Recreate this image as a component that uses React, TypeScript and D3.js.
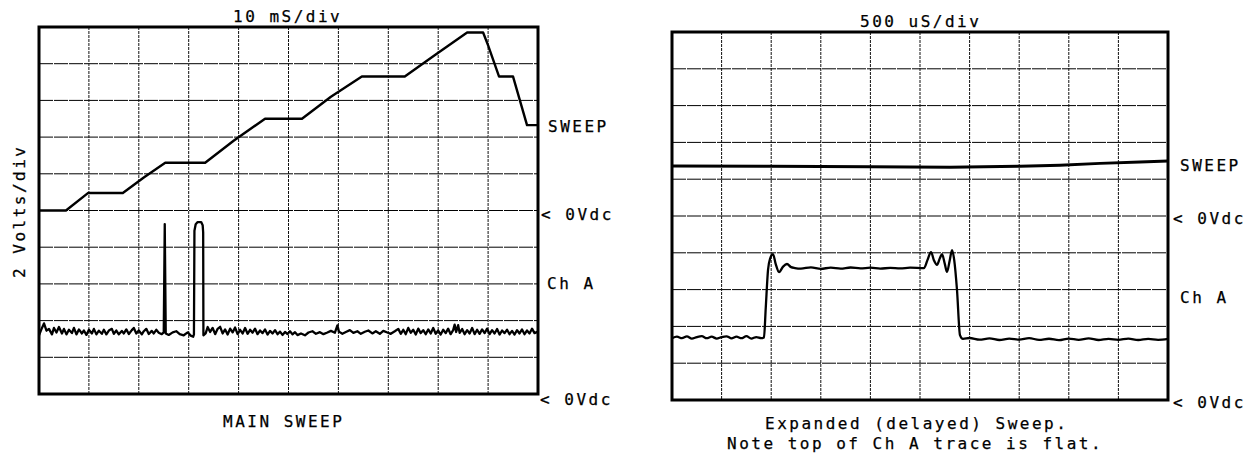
import React from "react";
import * as d3 from "d3";

// ---------- DATA ----------
// Main sweep: time in ms (10 mS/div), volts (2 V/div)
const mainTimeDomain: [number, number] = [0, 100];
// Delayed sweep: time in µs (500 uS/div)
const delayedTimeDomain: [number, number] = [0, 5000];
// Vertical: 10 divisions of 2 V; Ch A 0Vdc at bottom, SWEEP 0Vdc 5 divs up
const voltDomain: [number, number] = [0, 20];
const sweepOffsetVolts = 10;

const mainSweep: [number, number][] = [
  [0, 0.0], [5.4, 0.0], [9.8, 0.95], [16.8, 0.95], [21, 1.8], [25.3, 2.6],
  [33.3, 2.6], [39, 3.8], [45.3, 5.0], [52.7, 5.0], [58.5, 6.2], [64.7, 7.3],
  [73.3, 7.3], [79.5, 8.5], [85.8, 9.7], [89.0, 9.7], [90.0, 9.0], [92.2, 7.3],
  [95.0, 7.3], [97.8, 4.65], [100, 4.65],
];

const mainChA: [number, number][] = [
  [0, 3.2], [0.6, 3.6], [1.0, 3.85], [1.5, 3.45], [2, 3.55], [2.6, 3.25], [3, 3.6], [3.5, 3.35],
  [4, 3.65], [4.6, 3.3], [5, 3.55], [5.5, 3.25], [6, 3.5], [6.6, 3.32], [7, 3.6], [7.5, 3.25],
  [8, 3.52], [8.6, 3.3], [9, 3.46], [9.5, 3.22], [10, 3.5], [10.6, 3.3], [11, 3.55], [11.5, 3.25],
  [12, 3.45], [12.6, 3.28], [13, 3.5], [13.5, 3.25], [14, 3.46], [14.6, 3.55], [15, 3.28], [15.5, 3.46],
  [16, 3.25], [16.6, 3.44], [17, 3.3], [17.5, 3.52], [18, 3.27], [18.6, 3.48], [19, 3.6], [19.5, 3.3],
  [20, 3.46], [20.6, 3.25], [21, 3.42], [21.5, 3.55], [22, 3.27], [22.6, 3.44], [23, 3.3], [23.5, 3.5],
  [24, 3.34], [24.6, 3.26], [25.0, 3.36], [25.2, 9.26], [25.4, 3.3],
  [26, 3.22], [26.8, 3.36], [27.5, 3.42], [28.2, 3.26], [29, 3.2], [29.8, 3.36], [30.4, 3.18], [30.9, 3.12],
  [31.05, 3.25], [31.15, 8.9], [31.4, 9.25], [31.8, 9.37], [32.5, 9.37], [32.8, 9.2], [32.9, 8.8], [32.95, 3.2],
  [33.4, 3.3], [33.8, 3.65], [34.3, 3.38], [34.8, 3.6], [35.3, 3.26], [35.8, 3.55], [36.3, 3.66], [36.8, 3.3],
  [37.3, 3.52], [37.8, 3.24], [38.3, 3.56], [38.8, 3.36], [39.3, 3.62], [39.8, 3.26], [40.3, 3.5], [40.8, 3.3],
  [41.3, 3.6], [41.8, 3.28], [42.3, 3.5], [42.8, 3.34], [43.3, 3.56], [43.8, 3.26], [44.3, 3.46], [44.8, 3.32],
  [45.3, 3.52], [45.8, 3.24], [46.3, 3.44], [46.8, 3.3], [47.3, 3.48], [47.8, 3.26], [48.3, 3.4], [48.8, 3.22],
  [49.3, 3.38], [49.8, 3.27], [50.3, 3.42], [50.8, 3.25], [51.3, 3.37], [51.8, 3.21],
  [52.5, 3.3], [53.3, 3.2], [54, 3.35], [54.8, 3.42], [55.5, 3.28], [56.3, 3.37], [57, 3.26], [57.8, 3.35],
  [58.5, 3.44], [59.3, 3.34], [59.8, 3.74], [60.1, 3.4], [60.8, 3.28], [61.5, 3.38], [62.3, 3.48], [63, 3.33],
  [63.8, 3.42], [64.5, 3.28], [65.3, 3.39], [66, 3.46], [66.8, 3.3], [67.5, 3.42], [68.3, 3.28], [69, 3.44],
  [69.8, 3.35], [70.5, 3.28], [71.3, 3.42],
  [72, 3.55], [72.5, 3.28], [73, 3.5], [73.5, 3.26], [74, 3.6], [74.5, 3.34], [75, 3.5], [75.5, 3.24],
  [76, 3.56], [76.5, 3.32], [77, 3.48], [77.5, 3.26], [78, 3.52], [78.5, 3.3], [79, 3.6], [79.5, 3.28],
  [80, 3.46], [80.5, 3.24], [81, 3.5], [81.5, 3.32], [82, 3.56], [82.5, 3.26], [83, 3.48], [83.3, 3.78],
  [83.6, 3.38], [84.0, 3.75], [84.3, 3.33], [84.8, 3.54], [85.3, 3.26], [85.8, 3.48], [86.3, 3.3], [86.8, 3.6],
  [87.3, 3.26], [87.8, 3.5], [88.3, 3.28], [88.8, 3.52], [89.3, 3.32], [89.8, 3.56], [90.3, 3.26], [90.8, 3.48],
  [91.3, 3.3], [91.8, 3.54], [92.3, 3.24], [92.8, 3.46], [93.3, 3.32], [93.8, 3.5], [94.3, 3.26], [94.8, 3.44],
  [95.3, 3.24], [95.8, 3.48], [96.3, 3.3], [96.8, 3.52], [97.3, 3.26], [97.8, 3.46], [98.3, 3.3], [98.8, 3.56],
  [99.3, 3.32], [100, 3.4],
];

const delayedSweep: [number, number][] = [
  [0, 2.72], [988, 2.7], [1996, 2.68], [2802, 2.65], [3508, 2.7], [3911, 2.76],
  [4315, 2.86], [4718, 2.93], [5000, 2.99],
];

const delayedChA: [number, number][] = [
  [0, 3.36], [50, 3.44], [100, 3.36], [150, 3.46], [200, 3.34], [250, 3.42], [300, 3.47], [350, 3.36],
  [400, 3.44], [450, 3.34], [500, 3.42], [550, 3.46], [600, 3.35], [650, 3.44], [700, 3.36], [750, 3.47],
  [800, 3.34], [850, 3.42], [900, 3.36], [927, 3.4],
  [945, 5.0], [968, 7.07], [990, 7.7], [1018, 7.93], [1045, 7.4], [1079, 6.95], [1120, 7.25], [1159, 7.39],
  [1200, 7.22], [1240, 7.17],
  [1300, 7.14], [1400, 7.21], [1500, 7.13], [1600, 7.19], [1700, 7.14], [1800, 7.2], [1900, 7.15],
  [2000, 7.19], [2100, 7.14], [2200, 7.18], [2300, 7.15], [2400, 7.19], [2540, 7.17],
  [2575, 7.6], [2611, 8.04], [2640, 7.6], [2671, 7.34], [2700, 7.7], [2722, 7.93], [2750, 7.4],
  [2772, 6.96], [2800, 7.6], [2823, 8.15], [2845, 7.6], [2873, 5.98], [2903, 3.53], [2933, 3.32],
  [3000, 3.37], [3100, 3.28], [3200, 3.35], [3300, 3.26], [3400, 3.34], [3500, 3.28], [3600, 3.36],
  [3700, 3.27], [3800, 3.33], [3900, 3.25], [4000, 3.34], [4100, 3.27], [4200, 3.35], [4300, 3.26],
  [4400, 3.32], [4500, 3.27], [4600, 3.34], [4700, 3.26], [4800, 3.32], [4900, 3.27], [5000, 3.32],
];

const mainTitle = "10 mS/div";
const delayedTitle = "500 uS/div";
const yAxisLabel = "2 Volts/div";
const sweepLabel = "SWEEP";
const zeroLabel = "< 0Vdc";
const chALabel = "Ch A";
const mainCaption = ["MAIN SWEEP"];
const delayedCaption = ["Expanded (delayed) Sweep.", "Note top of Ch A trace is flat."];

// ---------- LAYOUT ----------
const W = 1258;
const H = 454;
const FONT = "'DejaVu Sans Mono', 'Liberation Mono', monospace";
const FS = 16;
const LS = 2.5;

type Box = { x0: number; x1: number; y0: number; y1: number };

const leftBox: Box = { x0: 39, x1: 538, y0: 27, y1: 394 };
const rightBox: Box = { x0: 672, x1: 1168, y0: 32, y1: 400 };

function Txt(props: { x: number; y: number; children: string; transform?: string }) {
  return (
    <text
      x={props.x}
      y={props.y}
      transform={props.transform}
      fontFamily={FONT}
      fontSize={FS}
      letterSpacing={LS}
      fill="#000"
      stroke="#000"
      strokeWidth={0.25}
    >
      {props.children}
    </text>
  );
}

function Scope(props: {
  box: Box;
  timeDomain: [number, number];
  sweep: [number, number][];
  chA: [number, number][];
  chACurve: d3.CurveFactory;
  sweepWidth: number;
}) {
  const { box, timeDomain, sweep, chA } = props;
  const x = d3.scaleLinear().domain(timeDomain).range([box.x0, box.x1]);
  const y = d3.scaleLinear().domain(voltDomain).range([box.y1, box.y0]);
  const xt = x.ticks(10);
  const yt = y.ticks(10);
  const sweepLine = d3
    .line<[number, number]>()
    .x((d) => x(d[0]))
    .y((d) => y(d[1] + sweepOffsetVolts));
  const chALine = d3
    .line<[number, number]>()
    .x((d) => x(d[0]))
    .y((d) => y(d[1]))
    .curve(props.chACurve);
  return (
    <g>
      {yt.map((t) => (
        <line
          key={"h" + t}
          x1={box.x0}
          x2={box.x1}
          y1={y(t)}
          y2={y(t)}
          stroke="#000"
          strokeWidth={1}
          strokeDasharray="14 1"
        />
      ))}
      {xt.map((t) => (
        <line
          key={"v" + t}
          x1={x(t)}
          x2={x(t)}
          y1={box.y0}
          y2={box.y1}
          stroke="#111"
          strokeWidth={1}
          strokeDasharray="3 1"
        />
      ))}
      <path
        d={sweepLine(sweep) || ""}
        fill="none"
        stroke="#000"
        strokeWidth={props.sweepWidth}
        strokeLinejoin="round"
      />
      <path
        d={chALine(chA) || ""}
        fill="none"
        stroke="#000"
        strokeWidth={2.3}
        strokeLinejoin="round"
      />
      <rect
        x={box.x0}
        y={box.y0}
        width={box.x1 - box.x0}
        height={box.y1 - box.y0}
        fill="none"
        stroke="#000"
        strokeWidth={3}
      />
    </g>
  );
}

export default function App() {
  return (
    <svg
      width={W}
      height={H}
      viewBox={`0 0 ${W} ${H}`}
      style={{ position: "absolute", left: 0, top: 0, background: "#fff" }}
    >
      <rect x={0} y={0} width={W} height={H} fill="#fff" />
      <Scope
        box={leftBox}
        timeDomain={mainTimeDomain}
        sweep={mainSweep}
        chA={mainChA}
        chACurve={d3.curveLinear}
        sweepWidth={2.4}
      />
      <Scope
        box={rightBox}
        timeDomain={delayedTimeDomain}
        sweep={delayedSweep}
        chA={delayedChA}
        chACurve={d3.curveMonotoneX}
        sweepWidth={3}
      />

      {/* Left panel texts */}
      <Txt x={233} y={22}>{mainTitle}</Txt>
      <Txt x={0} y={0} transform="translate(25,278) rotate(-90)">{yAxisLabel}</Txt>
      <Txt x={548} y={132}>{sweepLabel}</Txt>
      <Txt x={541} y={220}>{zeroLabel}</Txt>
      <Txt x={547} y={289}>{chALabel}</Txt>
      <Txt x={540} y={405}>{zeroLabel}</Txt>
      <Txt x={223} y={427}>{mainCaption[0]}</Txt>

      {/* Right panel texts */}
      <Txt x={860} y={27}>{delayedTitle}</Txt>
      <Txt x={1180} y={171}>{sweepLabel}</Txt>
      <Txt x={1173} y={224}>{zeroLabel}</Txt>
      <Txt x={1180} y={303}>{chALabel}</Txt>
      <Txt x={1173} y={408}>{zeroLabel}</Txt>
      <Txt x={765} y={429}>{delayedCaption[0]}</Txt>
      <Txt x={727} y={449}>{delayedCaption[1]}</Txt>
    </svg>
  );
}
